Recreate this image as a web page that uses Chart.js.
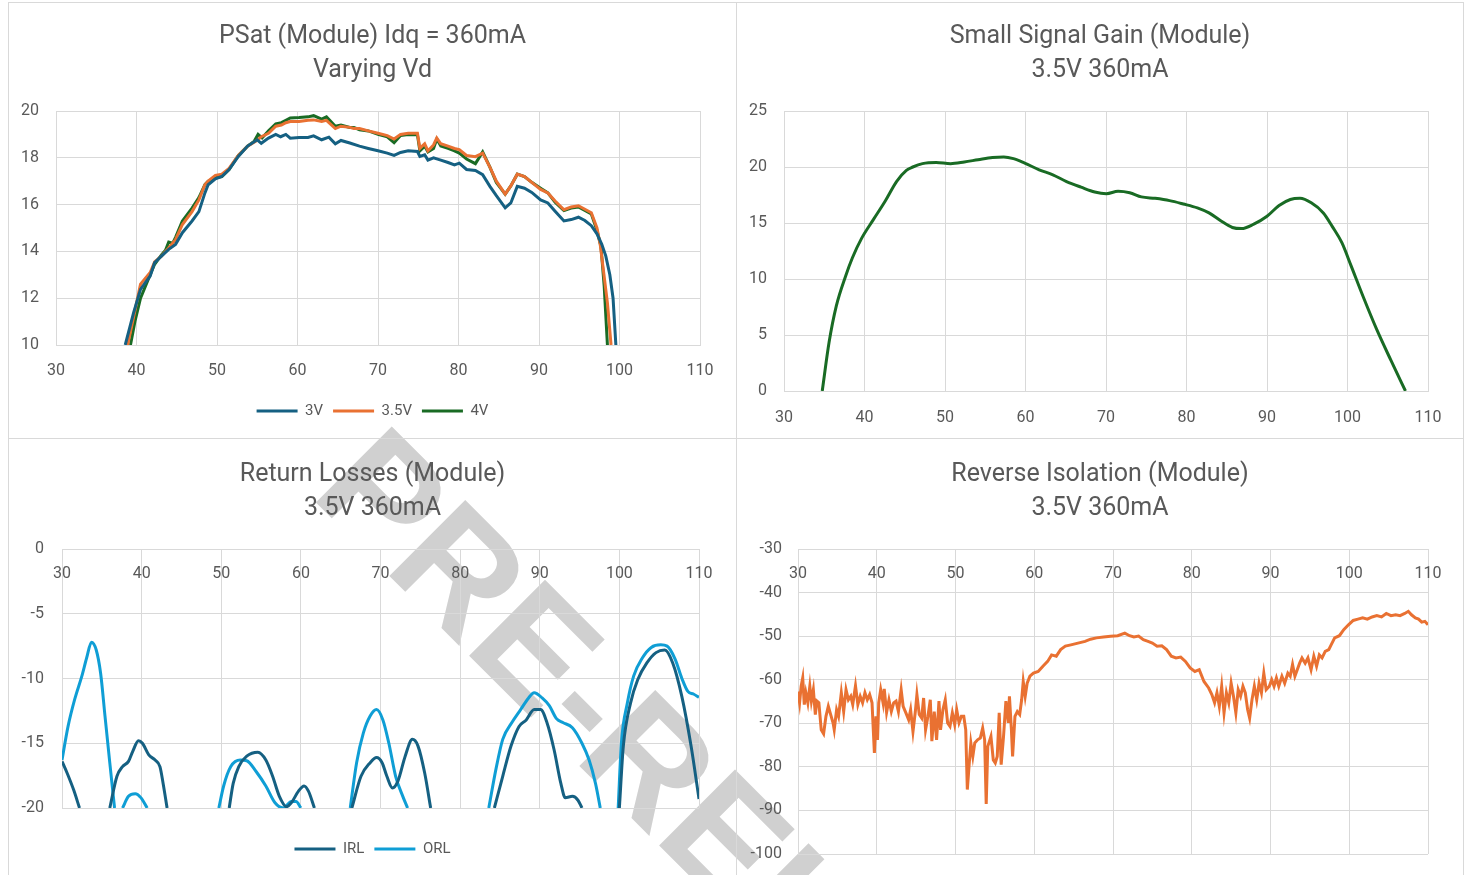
<!DOCTYPE html>
<html>
<head>
<meta charset="utf-8">
<script src="https://cdn.jsdelivr.net/npm/chart.js@4.4.1/dist/chart.umd.min.js"></script>
<style>
  html, body { margin: 0; padding: 0; background: #fff; overflow: hidden; }
  #page { position: relative; width: 1468px; height: 875px; overflow: hidden; background: #fff; }
  .panel { position: absolute; box-sizing: border-box; border: 1px solid #d9d9d9; }
  .panel canvas { display: block; }
  #wm { position: absolute; left: 739px; top: 849px; transform: translate(-50%, -50%) rotate(45deg);
        font: bold 156px "Liberation Sans", Arial, sans-serif; color: #d0d0d0; white-space: nowrap; line-height: 1; }
</style>
</head>
<body>
<div id="page">
  <div id="wm">PRE-RELEASE</div>
  <div class="panel" style="left:8px;top:2px;width:729px;height:437px"><canvas id="psat" width="727" height="435"></canvas></div>
  <div class="panel" style="left:736px;top:2px;width:728px;height:437px"><canvas id="gain" width="726" height="435"></canvas></div>
  <div class="panel" style="left:8px;top:438px;width:729px;height:450px"><canvas id="rl" width="727" height="448"></canvas></div>
  <div class="panel" style="left:736px;top:438px;width:728px;height:450px"><canvas id="iso" width="726" height="448"></canvas></div>
</div>
<script>
// frequency (x) / value (y) pairs
const psat3V = [[38.6,10],[39.65,11.39],[40.5,12.38],[41.7,12.95],[42.25,13.52],[43.1,13.8],[44.0,14.09],[44.85,14.3],[45.7,14.8],[46.9,15.3],[47.75,15.7],[48.5,16.5],[48.9,16.85],[49.8,17.1],[50.6,17.2],[51.5,17.5],[52.65,18.06],[53.8,18.5],[55.0,18.77],[55.5,18.62],[56.4,18.84],[57.3,19.0],[57.9,18.9],[58.55,19.0],[59.1,18.84],[60.2,18.87],[61.3,18.87],[62.0,18.94],[63.0,18.77],[63.9,18.88],[64.7,18.6],[65.4,18.74],[66.5,18.63],[67.7,18.5],[68.8,18.4],[70.0,18.3],[71.15,18.2],[72.0,18.1],[72.8,18.23],[73.75,18.3],[74.9,18.27],[75.2,18.06],[75.8,18.13],[76.2,17.9],[76.9,18.0],[77.8,17.9],[78.7,17.8],[79.5,17.7],[80.1,17.77],[81.0,17.5],[82.1,17.46],[83.0,17.28],[83.9,16.78],[84.7,16.38],[85.8,15.86],[86.5,16.07],[87.3,16.78],[88.2,16.7],[89.1,16.52],[90.2,16.2],[91.1,16.07],[92.0,15.72],[93.1,15.3],[94.0,15.36],[94.9,15.46],[95.7,15.32],[96.5,15.1],[97.2,14.75],[97.8,14.3],[98.3,13.8],[98.8,13.0],[99.2,12.0],[99.55,10]];
const psat35V = [[38.9,10],[39.7,11.3],[40.5,12.6],[41.7,13.1],[42.25,13.55],[43.1,13.8],[44.0,14.15],[44.85,14.5],[45.7,15.15],[46.9,15.7],[47.75,16.2],[48.5,16.85],[48.9,17.0],[49.8,17.25],[50.6,17.3],[51.5,17.55],[52.65,18.1],[53.8,18.5],[55.0,18.75],[55.5,18.9],[56.4,19.05],[57.3,19.35],[58.0,19.4],[58.55,19.5],[59.1,19.55],[60.2,19.55],[61.3,19.6],[62.0,19.62],[63.0,19.55],[63.6,19.6],[64.7,19.25],[65.4,19.35],[66.5,19.3],[67.0,19.25],[67.7,19.25],[68.8,19.15],[70.0,19.05],[71.15,18.95],[72.0,18.8],[72.8,19.0],[73.75,19.05],[74.9,19.05],[75.2,18.4],[75.8,18.6],[76.2,18.3],[76.9,18.55],[77.3,18.85],[77.8,18.6],[78.7,18.5],[79.5,18.4],[80.1,18.35],[81.0,18.1],[82.1,18.05],[83.0,18.2],[83.9,17.6],[84.7,17.0],[85.8,16.45],[86.5,16.8],[87.3,17.3],[88.2,17.2],[89.1,16.95],[90.2,16.65],[91.1,16.5],[92.0,16.15],[93.1,15.78],[94.0,15.9],[94.9,15.95],[95.7,15.8],[96.5,15.65],[97.2,15.0],[97.6,14.3],[98.0,13.2],[98.5,11.8],[98.95,10]];
const psat4V = [[39.25,10],[39.8,11.0],[40.5,12.0],[41.7,13.0],[42.25,13.45],[43.1,13.85],[43.6,14.05],[44.0,14.4],[44.5,14.35],[44.85,14.6],[45.7,15.3],[46.9,15.85],[47.75,16.3],[48.5,16.85],[48.9,17.0],[49.8,17.15],[50.6,17.2],[51.5,17.5],[52.65,18.1],[53.8,18.5],[54.6,18.7],[55.1,19.0],[55.6,18.85],[56.4,19.15],[57.3,19.45],[58.0,19.5],[58.55,19.6],[59.1,19.7],[60.2,19.72],[61.3,19.75],[62.0,19.8],[63.0,19.65],[63.6,19.75],[64.7,19.35],[65.4,19.4],[66.5,19.3],[67.0,19.3],[67.7,19.2],[68.8,19.15],[70.0,19.0],[71.15,18.9],[72.0,18.65],[72.8,18.95],[73.75,19.0],[74.9,18.98],[75.2,18.3],[75.8,18.5],[76.2,18.25],[76.9,18.4],[77.3,18.8],[77.8,18.5],[78.7,18.4],[79.5,18.3],[80.1,18.2],[81.0,17.95],[82.1,17.75],[83.0,18.25],[83.9,17.6],[84.7,16.95],[85.8,16.45],[86.5,16.8],[87.3,17.3],[88.2,17.2],[89.1,16.95],[90.2,16.7],[91.1,16.5],[92.0,16.1],[93.1,15.75],[94.0,15.85],[94.9,15.9],[95.7,15.75],[96.5,15.6],[97.2,14.9],[97.7,14.2],[98.1,12.5],[98.5,10]];

const gain = [[34.75,0],[35.6,4.35],[36.5,7.6],[37.65,10.25],[38.5,11.9],[39.67,13.67],[41.1,15.3],[42.56,16.94],[44.0,18.72],[45.2,19.7],[46.0,20.0],[47.2,20.3],[48.9,20.4],[50.7,20.3],[52.4,20.45],[54.1,20.65],[55.9,20.85],[57.3,20.9],[58.5,20.75],[59.9,20.35],[61.7,19.75],[63.4,19.3],[65.1,18.7],[66.9,18.2],[68.6,17.77],[70.05,17.62],[71.5,17.83],[72.95,17.7],[74.4,17.33],[76.1,17.2],[77.9,17.0],[79.6,16.7],[81.35,16.35],[82.8,15.9],[84.25,15.2],[85.7,14.6],[86.85,14.5],[88.3,14.87],[90.0,15.6],[91.5,16.56],[92.9,17.1],[94.1,17.2],[95.5,16.8],[97.0,15.9],[98.1,14.7],[99.3,13.24],[100.45,11.17],[101.9,8.5],[103.6,5.54],[105.4,2.73],[107.2,0]];

// null values = the trace is below -20 dB there (off the plot)
const irl = [[30,-16.4],[30.64,-17.3],[31.46,-18.6],[32.2,-20],[34,null],
  [36.0,-20],[36.9,-17.55],[37.6,-16.8],[38.35,-16.4],[38.9,-15.6],[39.6,-14.8],[40.1,-15.0],[40.9,-15.9],[41.7,-16.3],[42.3,-16.8],[42.7,-18.1],[43.2,-20],[47,null],
  [51.0,-20],[51.5,-18.1],[52.2,-16.8],[53.2,-16.0],[54.6,-15.7],[55.6,-16.3],[56.45,-17.55],[57.3,-19.1],[58.2,-19.9],[58.8,-19.6],[59.7,-18.7],[60.4,-18.3],[60.95,-18.7],[61.7,-20],[64,null],
  [66.4,-20],[67.55,-17.55],[68.7,-16.5],[69.5,-16.1],[70.2,-16.5],[70.8,-17.55],[71.5,-18.45],[72.2,-17.9],[73.1,-16.0],[74.0,-14.7],[74.7,-15.2],[75.55,-17.3],[76.3,-20],[80,null],
  [84.3,-20],[85.35,-17.55],[86.4,-15.2],[87.4,-13.7],[88.3,-13.2],[89.3,-12.4],[90.1,-12.4],[90.9,-13.4],[91.8,-15.5],[92.65,-18.1],[93.2,-19.2],[94.1,-19.1],[94.8,-19.4],[95.3,-20],[98,null],
  [100.0,-20],[100.5,-15.2],[101.4,-11.9],[102.3,-10.1],[103.45,-8.8],[104.6,-8.0],[105.7,-7.8],[106.7,-8.8],[107.85,-11.4],[109.0,-15.2],[110,-19.3]];
const orl = [[30,-16.3],[30.76,-13.7],[31.6,-11.6],[32.5,-9.8],[33.1,-8.4],[33.7,-7.2],[34.3,-7.8],[34.85,-9.6],[35.4,-12.9],[36.0,-16.5],[36.6,-20],[37.1,null],
  [37.6,-20],[38.35,-19.1],[39.2,-18.9],[39.9,-19.2],[40.7,-20],[45,null],
  [49.7,-20],[50.3,-18.3],[51.2,-16.8],[52.4,-16.3],[53.2,-16.35],[54.4,-17.2],[55.6,-18.3],[56.75,-19.6],[57.8,-20],[58.8,-19.5],[59.4,-19.5],[60.0,-20],[63,null],
  [66.2,-20],[67.0,-16.5],[67.85,-14.2],[68.7,-12.9],[69.5,-12.4],[70.3,-13.2],[71.05,-15.0],[71.9,-17.55],[72.8,-19.1],[73.4,-20],[78,null],
  [83.6,-20],[84.5,-17.0],[85.35,-14.7],[86.5,-13.4],[87.6,-12.4],[88.6,-11.5],[89.3,-11.1],[90.3,-11.5],[91.2,-12.1],[92.1,-13.1],[92.9,-13.4],[94.1,-13.8],[95.3,-15.0],[96.2,-16.3],[97.0,-18.1],[97.6,-20],[99,null],
  [99.85,-20],[100.25,-15.0],[101.0,-11.9],[101.8,-9.8],[102.9,-8.4],[104.0,-7.6],[105.2,-7.4],[106.0,-7.5],[107.0,-8.5],[107.85,-10.0],[108.6,-11.0],[109.3,-11.2],[110,-11.45]];

const isolation = [[30,-62.7],[30.2,-65.3],[30.4,-61.5],[30.6,-59.6],[30.8,-65.7],[31.0,-63.0],[31.25,-65.3],[31.5,-61.5],[31.7,-64.9],[31.95,-62.3],[32.2,-68.0],[32.4,-64.9],[32.65,-65.3],[32.95,-71.5],[33.25,-72.4],[33.55,-68.4],[33.85,-66.1],[34.15,-68.0],[34.45,-69.9],[34.6,-71.5],[34.9,-66.9],[35.15,-68.4],[35.5,-63.0],[35.8,-67.3],[36.1,-62.3],[36.4,-64.6],[36.7,-63.8],[36.95,-65.7],[37.3,-61.4],[37.6,-65.7],[37.9,-63.8],[38.2,-65.3],[38.5,-63.0],[38.8,-64.6],[39.1,-63.4],[39.4,-65.3],[39.7,-76.8],[39.9,-68.4],[40.1,-73.8],[40.25,-65.3],[40.5,-62.3],[40.8,-65.3],[40.95,-62.1],[41.25,-67.5],[41.55,-64.6],[41.85,-67.3],[42.15,-65.3],[42.45,-64.9],[42.75,-67.3],[43.1,-62.3],[43.35,-66.1],[43.7,-67.6],[44.05,-69.2],[44.3,-66.9],[44.6,-71.9],[44.9,-67.3],[45.1,-63.4],[45.4,-68.0],[45.7,-68.8],[45.95,-64.2],[46.2,-71.5],[46.5,-68.4],[46.8,-64.6],[47.0,-74.1],[47.3,-67.3],[47.6,-73.8],[47.9,-64.9],[48.1,-71.5],[48.4,-66.9],[48.7,-64.6],[49.0,-69.9],[49.3,-70.7],[49.6,-67.6],[49.9,-70.3],[50.15,-66.9],[50.45,-69.9],[50.75,-68.4],[51.05,-68.4],[51.3,-71.5],[51.5,-85.2],[51.75,-79.1],[51.95,-74.5],[52.2,-77.6],[52.45,-74.5],[52.8,-73.8],[53.15,-73.4],[53.45,-71.1],[53.7,-73.8],[53.9,-88.5],[54.1,-75.3],[54.5,-73.0],[54.8,-78.4],[55.05,-79.1],[55.3,-77.6],[55.55,-67.6],[55.8,-79.5],[56.1,-73.0],[56.4,-64.9],[56.7,-69.9],[56.85,-63.8],[57.1,-71.5],[57.25,-77.6],[57.55,-68.4],[57.85,-67.3],[58.15,-68.0],[58.4,-64.6],[58.6,-60.4],[58.85,-63.8],[59.1,-60.8],[59.45,-59.2],[59.9,-58.5],[60.5,-58.1],[61.1,-56.9],[61.7,-55.8],[62.2,-54.3],[62.8,-54.6],[63.35,-53.1],[63.95,-52.3],[64.65,-52.0],[65.55,-51.6],[66.45,-51.2],[67.15,-50.7],[67.9,-50.4],[68.8,-50.2],[69.7,-50.0],[70.6,-49.9],[71.5,-49.3],[72.1,-49.9],[72.65,-50.2],[73.25,-50.0],[73.85,-50.8],[74.45,-51.2],[75.0,-51.6],[75.6,-52.3],[76.2,-52.2],[76.8,-53.1],[77.4,-54.6],[78.0,-55.0],[78.6,-54.8],[79.2,-55.8],[79.8,-57.3],[80.4,-58.1],[80.95,-57.7],[81.55,-60.4],[82.15,-61.9],[82.55,-63.4],[82.9,-65.3],[83.2,-63.0],[83.5,-66.1],[83.8,-61.5],[84.1,-67.6],[84.4,-63.0],[84.7,-65.3],[85.0,-60.8],[85.3,-63.8],[85.6,-67.6],[85.9,-62.3],[86.2,-63.8],[86.5,-61.5],[86.8,-63.0],[87.1,-66.9],[87.35,-68.8],[87.65,-64.6],[87.95,-61.5],[88.25,-64.6],[88.55,-60.8],[88.85,-63.0],[89.15,-58.5],[89.45,-62.3],[89.85,-61.5],[90.15,-60.0],[90.45,-61.5],[90.75,-59.6],[91.05,-61.5],[91.45,-59.2],[91.8,-60.8],[92.2,-58.5],[92.5,-59.2],[92.8,-56.5],[93.1,-59.2],[93.4,-57.7],[93.7,-56.2],[94.0,-55.0],[94.4,-56.2],[94.75,-55.0],[95.15,-57.7],[95.5,-54.6],[95.85,-56.9],[96.2,-54.3],[96.55,-55.0],[96.95,-53.5],[97.4,-53.1],[97.7,-52.0],[98.15,-50.4],[98.75,-49.9],[99.3,-48.5],[99.9,-47.4],[100.5,-46.4],[101.1,-46.1],[101.7,-45.8],[102.3,-46.1],[102.9,-45.6],[103.5,-45.3],[104.1,-45.6],[104.7,-44.8],[105.3,-45.3],[105.9,-45.1],[106.45,-45.3],[107.05,-44.8],[107.5,-44.3],[107.9,-45.1],[108.4,-45.8],[108.8,-46.1],[109.2,-46.8],[109.6,-46.6],[110,-47.4]];

const FONT = 'Roboto, "Liberation Sans", sans-serif';
const TEXT = '#595959';
const GRID = '#d9d9d9';
const tickFont = { family: FONT, size: 16 };
const titleFont = { family: FONT, size: 25, weight: 'normal', lineHeight: 1.36 };

function xy(pairs) {
  return pairs.map(p => ({ x: p[0], y: p[1] }));
}

function line(label, pairs, color, tension) {
  return { label: label, data: xy(pairs), xAxisID: 'x', yAxisID: 'y', borderColor: color, backgroundColor: color,
           borderWidth: 3, pointRadius: 0, tension: tension, cubicInterpolationMode: tension ? 'monotone' : 'default' };
}

function legendOpts(show) {
  return { display: show, position: 'bottom',
           labels: { usePointStyle: true, pointStyle: 'line', pointStyleWidth: 41, color: TEXT, font: { family: FONT, size: 15 }, padding: 10 } };
}

function xScale(position, pad, h) {
  const s = { type: 'linear', position: position, min: 30, max: 110,
              ticks: { stepSize: 10, color: TEXT, font: tickFont, padding: pad },
              grid: { color: GRID, drawTicks: false }, border: { color: GRID } };
  if (h) s.afterFit = sc => { sc.height = h; };
  return s;
}

function yScale(min, max, step, pad, w) {
  return { type: 'linear', min: min, max: max,
           ticks: { stepSize: step, color: TEXT, font: tickFont, padding: pad },
           grid: { color: GRID, drawTicks: false }, border: { display: false },
           afterFit: sc => { sc.width = w; } };
}

// empty axis used only as spacing, so title/legend stay centred on the whole panel
function spacer(axis, position, size) {
  return { type: 'linear', axis: axis, position: position, display: true,
           ticks: { display: false }, grid: { display: false }, border: { display: false },
           afterFit: sc => { if (axis === 'x') sc.height = size; else sc.width = size; } };
}

// PSat
new Chart(document.getElementById('psat'), {
  type: 'line',
  data: { datasets: [
    line('3V', psat3V, '#156082', 0),
    line('3.5V', psat35V, '#E97132', 0),
    line('4V', psat4V, '#196B24', 0)
  ] },
  options: {
    responsive: false, animation: false,
    layout: { padding: { left: 0, right: 0, top: 0, bottom: 9.5 } },
    plugins: {
      title: { display: true, text: ['PSat (Module) Idq = 360mA', 'Varying Vd'], color: TEXT, font: titleFont, padding: { top: 17, bottom: 23 } },
      legend: legendOpts(true),
      tooltip: { enabled: false }
    },
    scales: { x: xScale('bottom', 16, 48.5), y: yScale(10, 20, 2, 17, 47), rpad: spacer('y', 'right', 36) }
  }
});

// Small signal gain
new Chart(document.getElementById('gain'), {
  type: 'line',
  data: { datasets: [ line('Gain', gain, '#196B24', 0.4) ] },
  options: {
    responsive: false, animation: false,
    layout: { padding: { left: 0, right: 0, top: 0, bottom: 0 } },
    plugins: {
      title: { display: true, text: ['Small Signal Gain (Module)', '3.5V 360mA'], color: TEXT, font: titleFont, padding: { top: 17, bottom: 23 } },
      legend: legendOpts(false),
      tooltip: { enabled: false }
    },
    scales: { x: xScale('bottom', 17, 47), y: yScale(0, 25, 5, 17, 47), rpad: spacer('y', 'right', 35) }
  }
});

// Return losses, x axis crosses at 0 (top)
new Chart(document.getElementById('rl'), {
  type: 'line',
  data: { datasets: [
    line('IRL', irl, '#156082', 0.4),
    line('ORL', orl, '#0F9ED5', 0.4)
  ] },
  options: {
    responsive: false, animation: false,
    layout: { padding: { left: 0, right: 0, top: 0, bottom: 20.5 } },
    plugins: {
      title: { display: true, text: ['Return Losses (Module)', '3.5V 360mA'], color: TEXT, font: titleFont, padding: { top: 19, bottom: 23 } },
      legend: legendOpts(true),
      tooltip: { enabled: false }
    },
    scales: {
      x: xScale({ y: 0 }, 15),
      gap: spacer('x', 'bottom', 23.5),
      y: yScale(-20, 0, 5, 18, 53),
      rpad: spacer('y', 'right', 37)
    }
  }
});

// Reverse isolation, x axis crosses at -30 (top)
new Chart(document.getElementById('iso'), {
  type: 'line',
  data: { datasets: [ line('S12', isolation, '#E97132', 0) ] },
  options: {
    responsive: false, animation: false,
    layout: { padding: { left: 0, right: 0, top: 0, bottom: 33 } },
    plugins: {
      title: { display: true, text: ['Reverse Isolation (Module)', '3.5V 360mA'], color: TEXT, font: titleFont, padding: { top: 19, bottom: 23 } },
      legend: legendOpts(false),
      tooltip: { enabled: false }
    },
    scales: { x: xScale({ y: -30 }, 15), y: yScale(-100, -30, 10, 16, 61), rpad: spacer('y', 'right', 35) }
  }
});
</script>
</body>
</html>
